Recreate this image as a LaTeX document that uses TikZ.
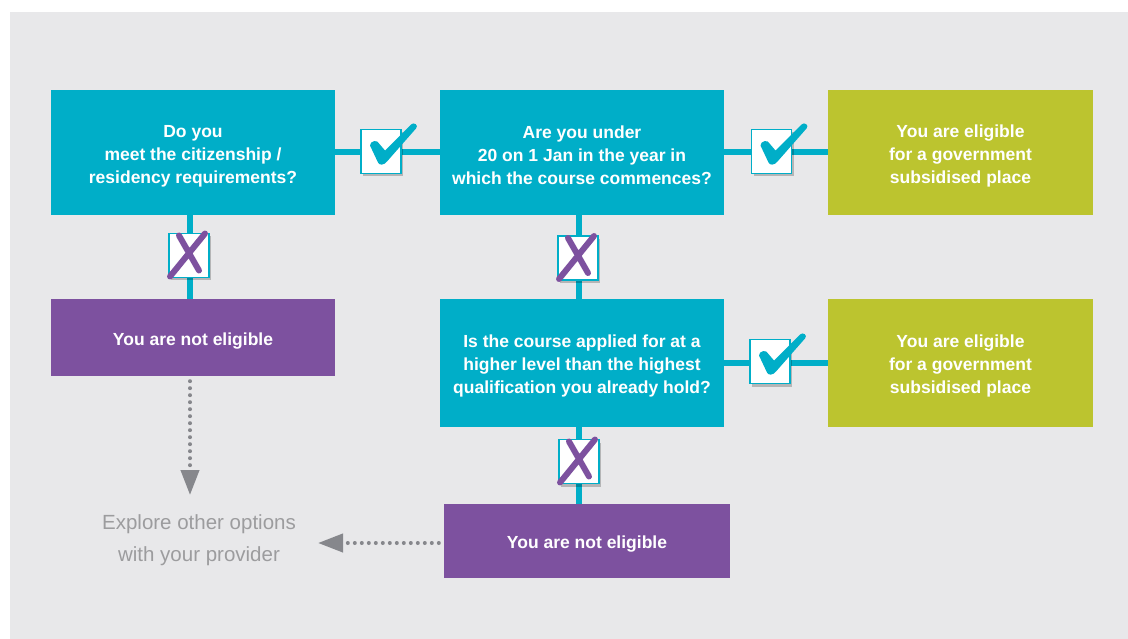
\documentclass[tikz,border=0pt]{standalone}
\usepackage{fontspec}
\setmainfont{Liberation Sans}
\usetikzlibrary{arrows.meta,shadows}
\definecolor{cyanb}{HTML}{00AEC8}
\definecolor{greenb}{HTML}{BCC42F}
\definecolor{purpleb}{HTML}{7D519F}
\definecolor{bgg}{HTML}{E8E8EA}
\definecolor{txtgray}{HTML}{9C9C9E}
\definecolor{dotgray}{HTML}{86878C}
\newcommand\tstrut{\rule{0pt}{19pt}}
\tikzset{
  box/.style={fill=#1, text=white, align=center, inner sep=0pt,
    font=\bfseries\fontsize{17.5}{23}\selectfont},
  conn/.style={draw=cyanb, line width=6pt},
  iconbox/.style={fill=white, draw=cyanb, line width=1.5pt, minimum width=40pt,
    minimum height=44pt, inner sep=0pt,
    drop shadow={shadow xshift=2pt, shadow yshift=-3pt, fill=black, opacity=0.22}},
  dotarrow/.style={draw=dotgray, line width=4pt, dash pattern=on 0pt off 7pt,
    line cap=round, -{Triangle[length=25pt,width=18pt]}},
  checkmk/.pic={\fill[cyanb] (-11,-6) .. controls (-11,-11) and (-3,-12) .. (-2,-8)
      -- (4,-1) -- (30,-27) .. controls (33,-30) and (38,-26) .. (35,-23)
      -- (6,10) .. controls (3,14) and (-2,14) .. (-3,11) -- cycle;},
  crossmk/.pic={\draw[purpleb, line width=6pt, line cap=round]
      (-10,-20) .. controls (0,-3) .. (10,15)
      (16,-22) .. controls (-2,0) .. (-19,21);}
}
\begin{document}
\begin{tikzpicture}[x=1pt,y=-1pt]
\useasboundingbox (0,0) rectangle (1128,639);
\fill[bgg] (10,12) rectangle (1128,639);

% main boxes
\node[box=cyanb, minimum width=284pt, minimum height=125pt] (A) at (193,152.5)
  {\tstrut Do you\\meet the citizenship /\\residency requirements?};
\node[box=cyanb, minimum width=284pt, minimum height=125pt] (B) at (582,152.5)
  {\tstrut Are you under\\20 on 1 Jan in the year in\\which the course commences?};
\node[box=greenb, minimum width=265pt, minimum height=125pt] (C) at (960.5,152.5)
  {\tstrut You are eligible\\for a government\\subsidised place};
\node[box=purpleb, minimum width=284pt, minimum height=77pt] (D) at (193,337.5)
  {\tstrut You are not eligible};
\node[box=cyanb, minimum width=284pt, minimum height=128pt] (E) at (582,363)
  {\tstrut Is the course applied for at a\\higher level than the highest\\qualification you already hold?};
\node[box=greenb, minimum width=265pt, minimum height=128pt] (F) at (960.5,363)
  {\tstrut You are eligible\\for a government\\subsidised place};
\node[box=purpleb, minimum width=286pt, minimum height=74pt] (G) at (587,541)
  {\tstrut You are not eligible};
\node[align=center, text=txtgray, font=\fontsize{20.5}{32}\selectfont, inner sep=0pt] (X)
  at (199,540) {Explore other options\\with your provider};

% connectors
\draw[conn] (A.east) -- (B.west);
\draw[conn] (B.east) -- (C.west);
\draw[conn] (E.east) -- (F.west);
\draw[conn] ([xshift=-3pt]A.south) -- ([xshift=-3pt]D.north);
\draw[conn] ([xshift=-3pt]B.south) -- ([xshift=-3pt]E.north);
\draw[conn] ([xshift=-3pt]E.south) -- ([xshift=-3pt]E.south |- G.north);

% dotted arrows
\coordinate (a1) at (190,495);
\coordinate (a2) at (318,543);
\draw[dotarrow] ([xshift=-3pt,yshift=-5pt]D.south) -- (a1);
\draw[dotarrow] ([xshift=-5pt,yshift=-2pt]G.west) -- (a2);

% icons
\node[iconbox] (k1) at (381,151.5) {};
\node[iconbox] (k2) at (771.5,151.5) {};
\node[iconbox] (k3) at (770,361.5) {};
\node[iconbox] (x1) at (189,255.5) {};
\node[iconbox] (x2) at (578,258) {};
\node[iconbox] (x3) at (579,461.5) {};
\pic at (k1) {checkmk};
\pic at (k2) {checkmk};
\pic at (k3) {checkmk};
\pic at (x1) {crossmk};
\pic at (x2) {crossmk};
\pic at (x3) {crossmk};
\end{tikzpicture}
\end{document}
